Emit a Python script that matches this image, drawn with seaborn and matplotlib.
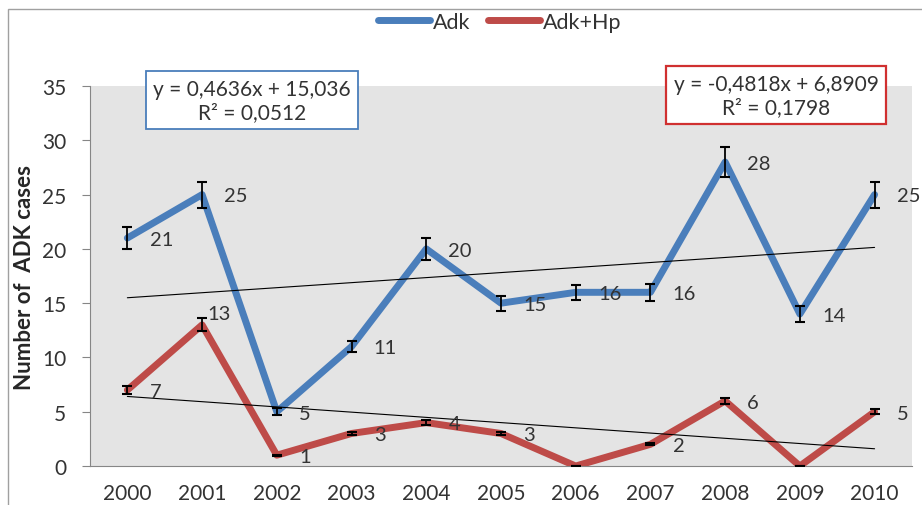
"""ADK cases per year with linear trendlines"""

import matplotlib
matplotlib.use("Agg")
import matplotlib.pyplot as plt
import matplotlib.patches as mpatches
from matplotlib.lines import Line2D
import numpy as np
import pandas as pd
import seaborn as sns

sns.set_theme(style="white")
plt.rcParams["font.family"] = ["Lato", "DejaVu Sans"]

years = [2000, 2001, 2002, 2003, 2004, 2005, 2006, 2007, 2008, 2009, 2010]
adk = [21, 25, 5, 11, 20, 15, 16, 16, 28, 14, 25]
adk_hp = [7, 13, 1, 3, 4, 3, 0, 2, 6, 0, 5]
adk_err = [1.0, 1.2, 0.3, 0.5, 1.0, 0.7, 0.7, 0.8, 1.4, 0.7, 1.2]
adk_hp_err = [0.35, 0.6, 0.05, 0.15, 0.2, 0.15, 0.0, 0.1, 0.3, 0.0, 0.25]
eq_adk = "y = 0,4636x + 15,036\nR² = 0,0512"
eq_adk_hp = "y = -0,4818x + 6,8909\nR² = 0,1798"

BLUE = "#4a7ebb"
RED = "#be4b48"
TXT = "#333333"

df = pd.DataFrame({"year": years * 2,
                   "cases": adk + adk_hp,
                   "series": ["Adk"] * len(years) + ["Adk+Hp"] * len(years)})

fig = plt.figure(figsize=(9.22, 5.06), dpi=100)
ax = fig.add_axes([0.0976, 0.077, 0.8915, 0.751])
ax.set_facecolor("#e4e4e4")

sns.lineplot(data=df, x="year", y="cases", hue="series", palette=[BLUE, RED],
             linewidth=5, legend=False, ax=ax, zorder=2)

# trendlines (Excel style thin black)
for vals in (adk, adk_hp):
    sns.regplot(x=years, y=vals, scatter=False, ci=None, color="black",
                line_kws={"lw": 0.8, "zorder": 3}, truncate=True, ax=ax)

ax.errorbar(years, adk, yerr=adk_err, fmt="none", ecolor="black",
            elinewidth=1.3, capsize=3.5, capthick=1.5, zorder=4)
ax.errorbar(years, adk_hp, yerr=adk_hp_err, fmt="none", ecolor="black",
            elinewidth=1.3, capsize=3.5, capthick=1.5, zorder=4)

# data labels
for x, y in zip(years, adk):
    ax.annotate(str(y), (x, y), xytext=(16, -1), textcoords="offset points",
                ha="left", va="center", fontsize=14.5, color=TXT, zorder=5)
for x, y in zip(years, adk_hp):
    if y == 0:
        continue
    off = (4, 8) if y == 13 else (16, -1)
    ax.annotate(str(y), (x, y), xytext=off, textcoords="offset points",
                ha="left", va="center", fontsize=14.5, color=TXT, zorder=5)

ax.set_xlim(years[0] - 0.5, years[-1] + 0.5)
ax.set_ylim(0, 35)
ax.set_yticks(range(0, 36, 5))
ax.set_xticks(years)
ax.set_xticks([y + 0.5 for y in years[:-1]] + [years[-1] + 0.5], minor=True)
ax.tick_params(axis="x", which="major", length=0, pad=12, labelsize=15, labelcolor=TXT)
ax.tick_params(axis="x", which="minor", length=5, color="#868686", width=0.8, direction="out")
ax.tick_params(axis="y", length=6, color="#868686", width=0.8, direction="out",
               pad=11, labelsize=15, labelcolor=TXT, left=True)
ax.set_xlabel("")
ax.set_ylabel("Number of  ADK cases", fontsize=16, fontweight="bold", labelpad=5)
for side in ("top", "right"):
    ax.spines[side].set_visible(False)
for side in ("left", "bottom"):
    ax.spines[side].set_color("#868686")
    ax.spines[side].set_linewidth(0.8)

# equation boxes
ax.text(0.273, 0.80, eq_adk, transform=fig.transFigure, ha="center", va="center",
        fontsize=15, color=TXT, linespacing=1.2,
        bbox=dict(boxstyle="square,pad=0.35", fc="white", ec=BLUE, lw=1.3), zorder=6)
ax.text(0.8416, 0.81, eq_adk_hp, transform=fig.transFigure, ha="center", va="center",
        fontsize=15, color=TXT, linespacing=1.2,
        bbox=dict(boxstyle="square,pad=0.35", fc="white", ec="#d03030", lw=1.6), zorder=6)

# chart border
fig.patches.append(mpatches.Rectangle((0.009, -0.1), 1.1, 1.08, transform=fig.transFigure,
                                      fill=False, ec="#a0a0a0", lw=1.0))

handles = [Line2D([], [], color=BLUE, lw=5), Line2D([], [], color=RED, lw=5)]
fig.legend(handles, ["Adk", "Adk+Hp"], loc="center", bbox_to_anchor=(0.542, 0.955),
           ncol=2, frameon=False, fontsize=15.5,
           handlelength=2.4, handletextpad=0.15, columnspacing=0.8, borderpad=0.2,
           labelcolor=TXT)

fig.savefig("out.png", dpi=100, facecolor="white")
